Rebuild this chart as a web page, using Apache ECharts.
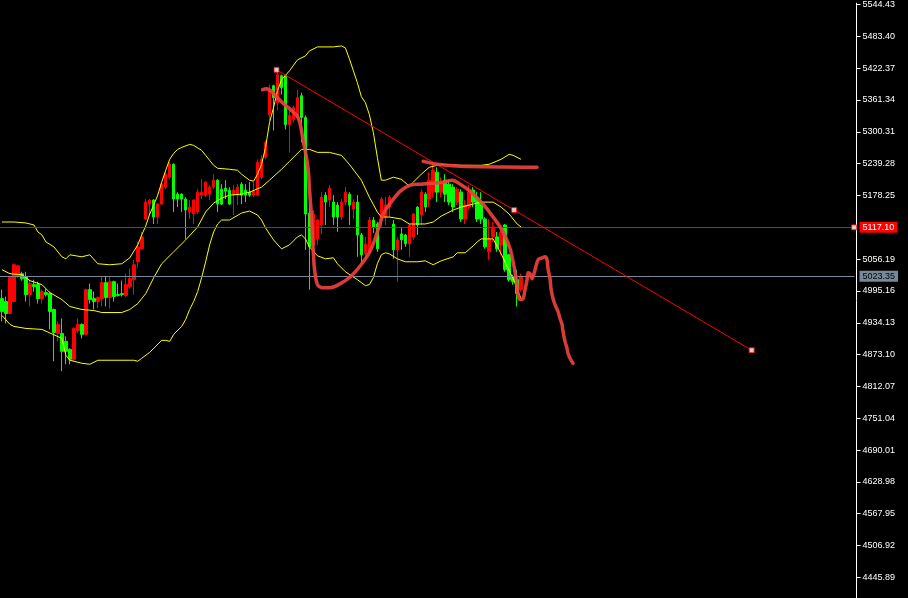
<!DOCTYPE html>
<html>
<head>
<meta charset="utf-8">
<title>chart</title>
<script src="https://cdn.jsdelivr.net/npm/echarts@6/dist/echarts.min.js"></script>
<style>
  html, body { margin: 0; padding: 0; background: #000; }
  #chart { width: 908px; height: 598px; }
</style>
</head>
<body>
<div id="chart"></div>
<script>
// bar slots on the time axis (131 drawn candles, rest is empty space on the right)
const slotCount = 214

// OHLC, one entry per bar
const opens = [4980.5,4974.8,4951.9,4974.8,5022.5,5028.2,5022.5,4988.2,5007.3,5007.3,4980.5,4992.0,4990.1,4959.6,4913.8,4913.8,4898.5,4883.2,4864.2,4919.5,
  4931.0,4911.9,4997.7,4980.5,4974.8,4980.5,5011.1,4982.4,5013.0,4988.2,4990.1,4986.3,5003.4,5016.8,5051.1,5075.9,5133.1,5161.7,5169.4,5136.9,
  5161.7,5194.2,5213.2,5238.0,5180.8,5180.8,5171.3,5146.5,5142.7,5146.5,5178.9,5178.9,5180.8,5194.2,5207.5,5190.3,5192.3,5188.4,5180.8,5178.9,
  5199.9,5188.4,5184.6,5178.9,5178.9,5213.2,5251.4,5333.4,5388.7,5356.3,5407.8,5407.8,5314.3,5323.9,5327.7,5369.6,5327.7,5144.6,5083.5,5095.0,
  5121.7,5178.9,5169.4,5165.5,5159.8,5136.9,5165.5,5180.8,5152.2,5165.5,5102.6,5066.4,5070.2,5131.2,5123.6,5131.2,5136.9,5156.0,5123.6,5074.0,
  5104.5,5102.6,5085.4,5098.8,5156.0,5140.7,5180.8,5171.3,5184.6,5222.8,5184.6,5207.5,5199.9,5194.2,5165.5,5184.6,5133.1,5156.0,5188.4,5175.1,
  5165.5,5133.1,5070.2,5098.8,5098.8,5083.5,5121.7,5064.5,5022.5,5016.8,4997.7]
const closes = [4955.7,4951.9,5020.6,5045.4,5043.5,5018.7,4988.2,5009.2,5003.4,4980.5,4993.9,4988.2,4955.7,4915.7,4931.0,4879.4,4879.4,4864.2,4923.3,4931.0,
  4911.9,4997.7,4978.6,4974.8,4982.4,5011.1,4982.4,5013.0,4984.4,4986.3,4988.2,5007.3,5018.7,5045.4,5079.7,5098.8,5165.5,5169.4,5136.9,5161.7,
  5199.9,5219.0,5238.0,5171.3,5171.3,5171.3,5150.3,5156.0,5169.4,5184.6,5184.6,5203.7,5194.2,5207.5,5161.7,5161.7,5186.5,5161.7,5188.4,5194.2,
  5178.9,5178.9,5178.9,5186.5,5241.8,5247.6,5280.0,5379.2,5365.8,5409.7,5384.9,5314.3,5331.5,5346.7,5365.8,5327.7,5142.7,5079.7,5142.7,5131.2,
  5175.1,5165.5,5192.3,5136.9,5136.9,5165.5,5184.6,5159.8,5165.5,5102.6,5064.5,5085.4,5131.2,5117.9,5075.9,5171.3,5159.8,5175.1,5074.0,5093.1,
  5093.1,5085.4,5121.7,5142.7,5121.7,5184.6,5156.0,5207.5,5226.6,5184.6,5203.7,5180.8,5165.5,5156.0,5190.3,5133.1,5159.8,5184.6,5165.5,5133.1,
  5133.1,5079.7,5095.0,5117.9,5075.9,5108.3,5035.8,5016.8,5013.0,4990.1,5023.35]
const lows = [4936.7,4932.9,4950.0,4972.9,5020.6,5014.9,4974.8,4965.3,4993.9,4971.0,4971.0,4984.4,4921.4,4860.4,4898.5,4841.3,4854.6,4854.6,4860.4,4913.8,
  4904.2,4910.0,4971.0,4959.6,4961.5,4965.3,4965.3,4961.5,4974.8,4984.4,4984.4,4984.4,4999.6,4988.2,5039.7,5074.0,5131.2,5140.7,5123.6,5123.6,
  5159.8,5190.3,5209.4,5146.5,5156.0,5146.5,5095.0,5133.1,5123.6,5142.7,5171.3,5175.1,5169.4,5190.3,5146.5,5159.8,5171.3,5159.8,5140.7,5159.8,
  5161.7,5165.5,5175.1,5175.1,5177.0,5209.4,5247.6,5321.9,5302.9,5341.0,5371.5,5304.8,5260.9,5318.1,5323.9,5280.0,5074.0,4997.7,5074.0,5083.5,
  5104.5,5121.7,5156.0,5121.7,5108.3,5131.2,5159.8,5121.7,5133.1,5060.6,5047.3,5054.9,5066.4,5106.4,5070.2,5117.9,5121.7,5136.9,5056.8,5013.0,
  5074.0,5079.7,5060.6,5093.1,5102.6,5121.7,5146.5,5156.0,5175.1,5165.5,5175.1,5165.5,5159.8,5146.5,5159.8,5127.4,5123.6,5150.3,5156.0,5127.4,
  5123.6,5075.9,5054.9,5089.2,5070.2,5064.5,5032.0,5013.0,5007.3,4965.3,4993.9]
const highs = [4997.7,4984.4,5022.5,5047.3,5045.4,5032.0,5032.0,5016.8,5016.8,5013.0,4997.7,4999.6,4993.9,4961.5,4936.7,4942.4,4908.1,4885.1,4925.2,4942.4,
  4932.9,4999.6,5009.2,4993.9,4984.4,5022.5,5022.5,5022.5,5014.9,5009.2,5014.9,5028.2,5037.8,5054.9,5089.2,5108.3,5171.3,5171.3,5171.3,5163.6,
  5203.7,5222.8,5241.8,5239.9,5184.6,5182.7,5175.1,5169.4,5171.3,5190.3,5209.4,5205.6,5198.0,5219.0,5209.4,5199.9,5207.5,5194.2,5198.0,5199.9,
  5203.7,5199.9,5203.7,5203.7,5247.6,5255.2,5283.8,5390.6,5390.6,5417.3,5409.7,5409.7,5342.9,5350.5,5381.1,5375.3,5331.5,5165.5,5150.3,5133.1,
  5184.6,5184.6,5198.0,5178.9,5165.5,5171.3,5194.2,5184.6,5171.3,5178.9,5106.4,5098.8,5136.9,5136.9,5127.4,5175.1,5175.1,5178.9,5131.2,5098.8,
  5117.9,5104.5,5123.6,5144.6,5157.9,5190.3,5184.6,5222.8,5241.8,5232.3,5213.2,5219.0,5207.5,5199.9,5194.2,5190.3,5169.4,5198.0,5194.2,5184.6,
  5184.6,5136.9,5133.1,5127.4,5108.3,5121.7,5123.6,5066.4,5026.3,5035.8,5028.2]

// bollinger bands as [bar, price]
const upperBand = [[0,5127.4],[3,5127.4],[6,5125.5],[8,5121.7],[9,5108.3],[10,5102.6],[11,5089.2],[13,5079.7],[15,5060.6],[16,5056.8],
  [17,5064.5],[20,5060.6],[22,5064.5],[24,5047.3],[27,5045.4],[30,5047.3],[32,5058.7],[34,5083.5],[35,5102.6],[36,5119.8],
  [37,5142.7],[38,5159.8],[39,5178.9],[40,5203.7],[41,5226.6],[42,5247.6],[43,5259.0],[44,5266.6],[45,5270.4],[47,5276.2],
  [48,5274.3],[50,5264.7],[51,5255.2],[52,5245.6],[53,5236.1],[54,5230.4],[57,5228.5],[59,5226.6],[60,5219.0],[62,5207.5],
  [63,5205.6],[64,5219.0],[65,5238.0],[66,5270.4],[67,5318.1],[68,5346.7],[69,5379.2],[70,5400.1],[72,5417.3],[74,5438.3],
  [76,5445.9],[77,5455.5],[79,5463.1],[83,5463.1],[85,5465.0],[86,5461.2],[87,5440.2],[88,5417.3],[89,5394.4],[90,5367.7],
  [91,5356.3],[92,5333.4],[93,5299.0],[94,5251.4],[95,5207.5],[96,5207.5],[98,5213.2],[100,5209.4],[102,5196.1],[103,5203.7],
  [105,5219.0],[107,5232.3],[110,5238.0],[115,5236.1],[120,5236.1],[122,5238.0],[125,5247.6],[127,5257.1],[128,5255.2],[130,5247.6]]
const middleBand = [[0,5035.8],[2,5028.2],[5,5026.3],[7,5014.9],[10,5007.3],[12,4992.0],[15,4978.6],[17,4965.3],[20,4959.6],[23,4957.6],
  [25,4953.8],[30,4953.8],[32,4959.6],[34,4971.0],[36,4990.1],[38,5020.6],[40,5047.3],[43,5070.2],[46,5093.1],[49,5117.9],
  [51,5146.5],[53,5163.6],[55,5173.2],[57,5178.9],[60,5180.8],[62,5184.6],[65,5194.2],[67,5207.5],[70,5228.5],[72,5243.7],
  [75,5266.6],[77,5266.6],[79,5260.9],[82,5260.9],[85,5255.2],[87,5238.0],[90,5207.5],[92,5175.1],[94,5146.5],[95,5136.9],
  [97,5136.9],[100,5133.1],[102,5123.6],[106,5123.6],[108,5127.4],[110,5138.8],[113,5150.3],[115,5156.0],[118,5161.7],[120,5165.5],
  [123,5165.5],[125,5156.0],[127,5142.7],[129,5123.6],[130,5117.9]]
const lowerBand = [[0,4948.1],[2,4931.0],[3,4927.1],[6,4923.3],[10,4921.4],[15,4904.2],[16,4871.8],[17,4862.3],[20,4856.5],[22,4854.6],
  [24,4862.3],[33,4862.3],[34,4860.4],[35,4866.1],[37,4877.5],[40,4900.4],[41,4900.4],[42,4898.5],[43,4911.9],[45,4927.1],
  [46,4940.5],[47,4959.6],[48,4974.8],[49,4993.9],[50,5020.6],[51,5051.1],[52,5083.5],[53,5108.3],[54,5123.6],[55,5131.2],
  [57,5131.2],[60,5144.6],[62,5148.4],[64,5140.7],[65,5131.2],[66,5116.0],[68,5093.1],[70,5075.9],[72,5083.5],[74,5098.8],
  [75,5102.6],[76,5095.0],[77,5079.7],[79,5062.6],[81,5056.8],[83,5058.7],[84,5047.3],[86,5032.0],[89,5016.8],[91,5005.4],
  [92,5007.3],[93,5020.6],[94,5047.3],[95,5064.5],[96,5068.3],[97,5066.4],[99,5056.8],[101,5051.1],[104,5051.1],[106,5053.0],
  [108,5045.4],[110,5053.0],[113,5060.6],[114,5068.3],[116,5068.3],[118,5081.6],[119,5089.2],[120,5095.0],[123,5095.0],[125,5066.4],
  [128,5018.7],[130,4980.5]]

// hand drawn forecast curve and the flat resistance stroke
const sketchCurve = [[65.25,5381.1],[66.25,5383.0],[67.25,5379.2],[69,5365.8],[70.5,5354.4],[72.25,5342.9],[74,5329.6],[74.75,5312.4],
  [75.5,5280.0],[76.25,5251.4],[76.75,5222.8],[77,5190.3],[77.25,5165.5],[77.5,5140.7],[77.75,5098.8],[78,5066.4],[78.25,5037.8],
  [79,5007.3],[80.25,5001.5],[82.25,5001.5],[84.75,5009.2],[87.25,5022.5],[89.75,5043.5],[92.25,5072.1],[94,5108.3],[95.5,5142.7],
  [97.25,5163.6],[99.75,5186.5],[102.25,5198.0],[104.75,5199.9],[107.75,5201.8],[110.5,5203.7],[112.75,5207.5],[114.75,5199.9],
  [117.25,5186.5],[119.75,5167.5],[121.5,5152.2],[123,5136.9],[124.75,5117.9],[126,5100.7],[127.25,5075.9],[128,5051.1],
  [128.75,5018.7],[129.25,4988.2],[129.75,4978.6],[130.5,4980.5],[131,4997.7],[131.5,5016.8],[131.75,5030.1],[132.25,5028.2],
  [132.75,5018.7],[133,5022.5],[133.5,5035.8],[134.25,5054.9],[135.25,5058.7],[136,5060.6],[136.5,5054.9],[136.75,5037.8],
  [137.25,5018.7],[137.5,4999.6],[138,4980.5],[138.5,4969.1],[139.25,4955.7],[139.75,4942.4],[140.25,4931.0],[140.5,4917.6],
  [141,4898.5],[141.5,4885.1],[141.75,4875.6],[142.25,4866.1],[143,4856.5]]
const sketchFlat = [[105.5,5243.7],[109,5238.0],[114.75,5234.2],[134,5232.3]]

// trend line (with its mid handle) and price lines
const trendLine = [[68.75,5419.2],[187.75,4881.4]]
const trendHandles = [[68.75,5419.2],[128.25,5150.3],[187.75,4881.4]]
const levelPrice = 5117.10
const bidPrice = 5023.35

const yTicks = [5544.43,5483.40,5422.37,5361.34,5300.31,5239.28,5178.25,5056.19,4995.16,4934.13,
  4873.10,4812.07,4751.04,4690.01,4628.98,4567.95,4506.92,4445.89]
const yMin = 4406.4
const yMax = 5547.0

const categories = []
for (let i = 0; i < slotCount; i++) categories.push(i)
const candleData = opens.map((o, i) => [o, closes[i], lows[i], highs[i]])

const chart = echarts.init(document.getElementById('chart'), null, { renderer: 'canvas' })

const bandSeries = (name, data) => ({
  name: name,
  type: 'line',
  xAxisIndex: 1,
  data: data,
  showSymbol: false,
  symbol: 'none',
  smooth: false,
  lineStyle: { color: '#ffff00', width: 1 },
  z: 4,
  silent: true
})

const sketchStyle = { color: 'rgba(236,64,64,0.92)', width: 3.5, cap: 'round', join: 'round' }

const priceLabel = (text, fg, bg) => ({
  position: 'end',
  distance: 5,
  formatter: text,
  color: fg,
  backgroundColor: bg,
  fontFamily: 'Liberation Sans',
  fontSize: 9,
  lineHeight: 10,
  padding: [1, 3, 0, 3]
})

chart.setOption({
  backgroundColor: '#000000',
  animation: false,
  grid: { left: -1.5, right: 53.5, top: 0, bottom: 0 },
  xAxis: [{
    type: 'category',
    data: categories,
    boundaryGap: true,
    show: false
  }, {
    type: 'value',
    min: -0.5,
    max: slotCount - 0.5,
    show: false
  }],
  yAxis: {
    type: 'value',
    position: 'right',
    offset: 2,
    min: yMin,
    max: yMax,
    splitLine: { show: false },
    axisLine: { show: true, onZero: false, lineStyle: { color: '#ffffff', width: 1 } },
    axisTick: { show: true, length: 4, customValues: yTicks, lineStyle: { color: '#ffffff' } },
    axisLabel: {
      customValues: yTicks,
      margin: 6,
      color: '#ffffff',
      fontFamily: 'Liberation Sans',
      fontSize: 9,
      formatter: v => v.toFixed(2)
    }
  },
  series: [{
    name: 'price',
    type: 'candlestick',
    data: candleData,
    barWidth: 3,
    barMinWidth: 3,
    itemStyle: {
      color: '#ff0000',
      color0: '#00ff00',
      borderColor: '#ff0000',
      borderColor0: '#00ff00',
      borderWidth: 1
    },
    z: 2,
    silent: true,
    markLine: {
      silent: true,
      symbol: 'none',
      animation: false,
      data: [{
        yAxis: levelPrice,
        lineStyle: { color: '#ff0000', width: 1, type: 'solid' },
        label: priceLabel(levelPrice.toFixed(2), '#ffffff', '#ff0000')
      }, {
        yAxis: bidPrice,
        lineStyle: { color: '#778899', width: 1, type: 'solid' },
        label: priceLabel(bidPrice.toFixed(2), '#000000', '#778899')
      }]
    }
  },
  bandSeries('upper', upperBand),
  bandSeries('middle', middleBand),
  bandSeries('lower', lowerBand),
  {
    name: 'trend',
    type: 'line',
    xAxisIndex: 1,
    data: trendLine,
    symbol: 'none',
    lineStyle: { color: '#ff0000', width: 1 },
    z: 5,
    silent: true
  }, {
    name: 'sketch',
    type: 'line',
    xAxisIndex: 1,
    data: sketchCurve,
    symbol: 'none',
    smooth: 0.3,
    lineStyle: sketchStyle,
    z: 6,
    silent: true
  }, {
    name: 'sketch flat',
    type: 'line',
    xAxisIndex: 1,
    data: sketchFlat,
    symbol: 'none',
    smooth: 0.3,
    lineStyle: sketchStyle,
    z: 6,
    silent: true
  }, {
    name: 'handles',
    type: 'scatter',
    xAxisIndex: 1,
    data: trendHandles.concat([[213.4, levelPrice]]),
    symbol: 'rect',
    symbolSize: 5,
    clip: false,
    itemStyle: { color: '#ffffff', borderColor: '#ff0000', borderWidth: 1 },
    z: 7,
    silent: true
  }]
})
</script>
</body>
</html>
